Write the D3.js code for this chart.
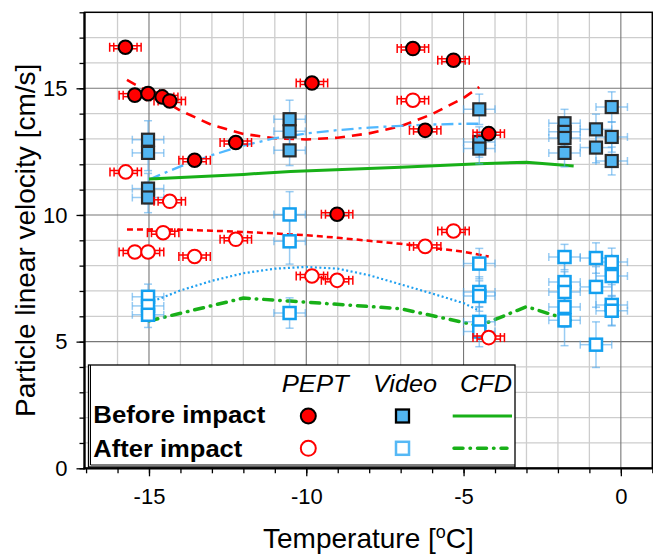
<!DOCTYPE html>
<html>
<head>
<meta charset="utf-8">
<script src="https://cdn.jsdelivr.net/npm/d3@7"></script>
<style>
  html, body { margin: 0; padding: 0; background: #fff; }
  svg { display: block; font-family: Arial, "Liberation Sans", sans-serif; }
</style>
</head>
<body>
<svg id="chart" width="653" height="554"></svg>
<script>
// ---- Data: particle linear velocity [cm/s] vs temperature [°C] ----
// PEPT measurements, before impact
const peptBeforeT = [-15.75, -15.45, -15.03, -14.58, -14.34, -13.55, -12.24, -9.82, -9.02, -6.61, -6.22, -5.32, -4.2];
const peptBeforeV = [16.62, 14.73, 14.79, 14.66, 14.5, 12.16, 12.86, 15.21, 10.03, 16.57, 13.34, 16.11, 13.21];
// PEPT measurements, after impact
const peptAfterT = [-15.74, -15.45, -15.03, -14.55, -14.34, -13.55, -12.24, -9.82, -9.02, -6.61, -6.22, -5.32, -4.2];
const peptAfterV = [11.7, 8.54, 8.54, 9.3, 10.54, 8.36, 9.04, 7.59, 7.42, 14.53, 8.76, 9.37, 5.16];

// Video measurements, before impact
const videoBeforeT = [-15.03, -15.03, -15.03, -15.03, -10.53, -10.53, -10.53, -4.5, -4.5, -4.5,
                      -1.79, -1.79, -1.79, -1.79, -0.79, -0.79, -0.29, -0.29, -0.29];
const videoBeforeV = [12.97, 12.45, 11.04, 10.69, 13.78, 13.3, 12.55, 14.17, 12.88, 12.62,
                      13.62, 13.28, 13.04, 12.45, 13.38, 12.66, 14.26, 13.08, 12.13];
const videoBeforeErr = [0.75, 0.7, 0.6, 0.6, 0.75, 0.7, 0.6, 0.6, 0.6, 0.6,
                        0.55, 0.55, 0.55, 0.55, 0.6, 0.6, 0.6, 0.6, 0.55];
// Video measurements, after impact
const videoAfterT = [-15.03, -15.03, -15.03, -10.53, -10.53, -10.53, -4.5, -4.5, -4.5, -4.5, -4.5,
                     -1.79, -1.79, -1.79, -1.79, -1.79, -0.79, -0.79, -0.79, -0.29, -0.29, -0.29, -0.29];
const videoAfterV = [6.77, 6.41, 6.06, 10.02, 8.96, 6.13, 8.08, 6.96, 6.8, 5.78, 5.4,
                     8.34, 7.35, 6.96, 6.37, 5.84, 8.3, 7.16, 4.88, 8.14, 7.59, 6.45, 6.22];
const videoAfterErr = [0.5, 0.5, 0.5, 0.9, 0.9, 0.6, 0.6, 0.6, 0.6, 0.6, 0.6,
                       0.5, 0.8, 0.8, 0.8, 1.0, 0.6, 0.8, 0.9, 0.55, 0.8, 0.8, 0.6];

// CFD simulation
const cfdT = [-15, -12, -10.5, -7, -4.5, -3, -1.5];
const cfdBeforeV = [11.42, 11.6, 11.72, 11.88, 12.02, 12.08, 11.93];
const cfdAfterV = [5.82, 6.72, 6.6, 6.3, 5.62, 6.38, 5.8];

// Trend curves through the measurements
const peptBeforeFitT = [-15.7, -15, -14, -13, -12, -11, -10, -9, -8, -7, -6, -5, -4.5];
const peptBeforeFitV = [15.33, 14.85, 14.12, 13.55, 13.2, 13.03, 12.98, 13.05, 13.22, 13.5, 13.98, 14.62, 15.05];
const peptAfterFitT = [-15.7, -14, -13, -12, -11, -10, -9, -8, -7, -6, -5, -4.2];
const peptAfterFitV = [9.43, 9.42, 9.38, 9.33, 9.27, 9.2, 9.1, 8.98, 8.86, 8.7, 8.55, 8.36];
const videoBeforeFitT = [-15, -14, -13, -12, -11, -10, -9, -8, -7, -6, -5, -4.5];
const videoBeforeFitV = [11.4, 11.92, 12.36, 12.74, 13.03, 13.22, 13.35, 13.45, 13.52, 13.57, 13.6, 13.6];
const videoAfterFitT = [-15, -14, -13, -12, -11, -10, -9, -8, -7, -6, -5, -4.5];
const videoAfterFitV = [6.53, 7.02, 7.4, 7.7, 7.88, 7.95, 7.88, 7.62, 7.26, 6.9, 6.52, 6.22];

// Axis ticks
const xMajorTicks = [-15, -10, -5, 0];
const yMajorTicks = [0, 5, 10, 15];

// ---- Layout ----
const svg = d3.select("#chart");
const x = d3.scaleLinear().domain([-17.05, 1]).range([84.5, 652.3]);
const y = d3.scaleLinear().domain([0, 18]).range([468.3, 12.3]);
const [pLeft, pRight] = x.range();
const [pBottom, pTop] = y.range();

const RED = "#ff0000";
const BLUE_FILL = "#52b6f2";
const BLUE_OPEN = "#13a0f0";
const BLUE_ERR = "rgba(85,170,235,0.6)";
const GREEN = "#18b018";

// ---- Grid ----
const xMinor = d3.range(-16, 1).filter(v => v % 5 !== 0);
const yMinor = d3.range(1, 18).filter(v => v % 5 !== 0);
const grid = svg.append("g");
grid.selectAll(".vminor").data(xMinor).join("line")
  .attr("x1", d => x(d)).attr("x2", d => x(d)).attr("y1", pTop).attr("y2", pBottom)
  .attr("stroke", "#cdcdcd").attr("stroke-width", 1.3);
grid.selectAll(".hminor").data(yMinor).join("line")
  .attr("y1", d => y(d)).attr("y2", d => y(d)).attr("x1", pLeft).attr("x2", pRight)
  .attr("stroke", "#cdcdcd").attr("stroke-width", 1.3);
grid.selectAll(".vmajor").data(xMajorTicks).join("line")
  .attr("x1", d => x(d)).attr("x2", d => x(d)).attr("y1", pTop).attr("y2", pBottom)
  .attr("stroke", "#777").attr("stroke-width", 1.1);
grid.selectAll(".hmajor").data(yMajorTicks.filter(v => v > 0)).join("line")
  .attr("y1", d => y(d)).attr("y2", d => y(d)).attr("x1", pLeft).attr("x2", pRight)
  .attr("stroke", "#777").attr("stroke-width", 1.1);

// ---- Curves ----
const line = d3.line().x(d => x(d[0])).y(d => y(d[1]));
const curves = svg.append("g").attr("fill", "none");
function drawCurve(ts, vs, color, width, dash, cap) {
  curves.append("path")
    .attr("d", line(ts.map((t, i) => [t, vs[i]])))
    .attr("stroke", color).attr("stroke-width", width)
    .attr("stroke-dasharray", dash || null)
    .attr("stroke-linecap", cap || "butt");
}
drawCurve(peptBeforeFitT, peptBeforeFitV, RED, 2.6, "10,7");
drawCurve(peptAfterFitT, peptAfterFitV, RED, 2.5, "6,4");
drawCurve(videoBeforeFitT, videoBeforeFitV, "#50b8ff", 2.3, "12,5,3,5");
drawCurve(videoAfterFitT, videoAfterFitV, "#1fa0f0", 2.2, "2,2.5");
drawCurve(cfdT, cfdBeforeV, GREEN, 3);
drawCurve(cfdT, cfdAfterV, GREEN, 3.5, "9,7,0.5,7", "round");

// ---- Video markers with x/y error bars ----
const xErrVideo = 0.5;
function drawVideo(ts, vs, errs, filled) {
  const g = svg.append("g");
  const pts = ts.map((t, i) => ({ t, v: vs[i], e: errs[i] }));
  const eb = g.append("g").attr("stroke", BLUE_ERR).attr("stroke-width", 1.5);
  pts.forEach(p => {
    const cx = x(p.t), cy = y(p.v);
    const x0 = x(p.t - xErrVideo), x1 = x(p.t + xErrVideo);
    const y0 = y(p.v - p.e), y1 = y(p.v + p.e);
    eb.append("line").attr("x1", x0).attr("x2", x1).attr("y1", cy).attr("y2", cy);
    eb.append("line").attr("x1", x0).attr("x2", x0).attr("y1", cy - 4).attr("y2", cy + 4);
    eb.append("line").attr("x1", x1).attr("x2", x1).attr("y1", cy - 4).attr("y2", cy + 4);
    eb.append("line").attr("x1", cx).attr("x2", cx).attr("y1", y0).attr("y2", y1);
    eb.append("line").attr("x1", cx - 4).attr("x2", cx + 4).attr("y1", y0).attr("y2", y0);
    eb.append("line").attr("x1", cx - 4).attr("x2", cx + 4).attr("y1", y1).attr("y2", y1);
  });
  g.selectAll("rect").data(pts).join("rect")
    .attr("x", d => x(d.t) - 6).attr("y", d => y(d.v) - 6)
    .attr("width", 12).attr("height", 12)
    .attr("fill", filled ? BLUE_FILL : "#fff")
    .attr("stroke", filled ? "#2a2a2a" : BLUE_OPEN)
    .attr("stroke-width", filled ? 2.2 : 2.5);
}
drawVideo(videoAfterT, videoAfterV, videoAfterErr, false);
drawVideo(videoBeforeT, videoBeforeV, videoBeforeErr, true);

// ---- PEPT markers with horizontal error bars ----
const xErrOuter = 0.5, xErrInner = 0.37;
function drawPept(ts, vs, filled) {
  const g = svg.append("g");
  const pts = ts.map((t, i) => ({ t, v: vs[i] }));
  const eb = g.append("g").attr("stroke", RED).attr("stroke-width", 1.5);
  pts.forEach(p => {
    const cy = y(p.v);
    [[xErrOuter, -1.5], [xErrInner, 1.5]].forEach(([e, dy]) => {
      const x0 = x(p.t - e), x1 = x(p.t + e);
      eb.append("line").attr("x1", x0).attr("x2", x1).attr("y1", cy + dy).attr("y2", cy + dy);
      eb.append("line").attr("x1", x0).attr("x2", x0).attr("y1", cy - 4.5).attr("y2", cy + 4.5);
      eb.append("line").attr("x1", x1).attr("x2", x1).attr("y1", cy - 4.5).attr("y2", cy + 4.5);
    });
  });
  g.selectAll("circle").data(pts).join("circle")
    .attr("cx", d => x(d.t)).attr("cy", d => y(d.v)).attr("r", 6.8)
    .attr("fill", filled ? RED : "#fff")
    .attr("stroke", filled ? "#000" : RED)
    .attr("stroke-width", 2);
}
drawPept(peptAfterT, peptAfterV, false);
drawPept(peptBeforeT, peptBeforeV, true);

// ---- Axes ----
const axisFont = "22px";
const gx = svg.append("g").attr("transform", `translate(0,${pBottom})`);
gx.call(d3.axisBottom(x).tickValues(d3.range(-17, 2)).tickSize(5).tickFormat(""));
gx.call(g => g.append("g").call(d3.axisBottom(x).tickValues(xMajorTicks).tickSize(8).tickPadding(12)
  .tickFormat(d => d === 0 ? "0" : String(d).replace("\u2212", "-"))));
gx.selectAll(".domain").remove();
gx.selectAll("line").attr("stroke", "#000").attr("stroke-width", 1.3);
gx.selectAll("text").attr("fill", "#000").style("font-size", axisFont).style("font-family", "Arial, 'Liberation Sans', sans-serif");

const gy = svg.append("g").attr("transform", `translate(${pLeft},0)`);
gy.call(d3.axisLeft(y).tickValues(d3.range(0, 19)).tickSize(5).tickFormat(""));
gy.call(g => g.append("g").call(d3.axisLeft(y).tickValues(yMajorTicks).tickSize(8).tickPadding(9)));
gy.selectAll(".domain").remove();
gy.selectAll("line").attr("stroke", "#000").attr("stroke-width", 1.3);
gy.selectAll("text").attr("fill", "#000").style("font-size", axisFont).style("font-family", "Arial, 'Liberation Sans', sans-serif");

// Plot frame
svg.append("rect").attr("x", pLeft).attr("y", pTop).attr("width", pRight - pLeft).attr("height", pBottom - pTop)
  .attr("fill", "none").attr("stroke", "#000").attr("stroke-width", 1.5);
svg.append("line").attr("x1", pLeft).attr("x2", pLeft).attr("y1", pTop).attr("y2", pBottom + 1)
  .attr("stroke", "#000").attr("stroke-width", 2.2);
svg.append("line").attr("x1", pLeft - 1).attr("x2", pRight).attr("y1", pBottom).attr("y2", pBottom)
  .attr("stroke", "#000").attr("stroke-width", 2.2);

// Axis titles
svg.append("text")
  .attr("transform", `translate(35,${(pTop + pBottom) / 2}) rotate(-90)`)
  .attr("text-anchor", "middle").style("font-size", "28px").attr("fill", "#000")
  .text("Particle linear velocity [cm/s]");
const xt = svg.append("text")
  .attr("x", (pLeft + pRight) / 2).attr("y", 548).attr("text-anchor", "middle")
  .style("font-size", "28px").attr("fill", "#000");
xt.append("tspan").text("Temperature [");
xt.append("tspan").attr("dy", -10).style("font-size", "18px").text("o");
xt.append("tspan").attr("dy", 10).text("C]");

// ---- Legend ----
const lg = svg.append("g");
lg.append("rect").attr("x", 88.5).attr("y", 365).attr("width", 426.5).attr("height", 102)
  .attr("fill", "#fff").attr("stroke", "#000").attr("stroke-width", 1.3);
lg.append("path").attr("d", "M90.5,365 V465 H515").attr("fill", "none").attr("stroke", "#000").attr("stroke-width", 1);

const hdr = [["PEPT", 281.7, 67], ["Video", 373, 64], ["CFD", 460, 52]];
hdr.forEach(([t, hx, w]) => {
  lg.append("text").attr("x", hx).attr("y", 391.7).style("font-size", "24px").style("font-style", "italic")
    .attr("textLength", w).attr("lengthAdjust", "spacingAndGlyphs").attr("fill", "#000").text(t);
});
lg.append("text").attr("x", 93.3).attr("y", 423.3).style("font-size", "24px").style("font-weight", "bold")
  .attr("textLength", 172).attr("lengthAdjust", "spacingAndGlyphs").attr("fill", "#000").text("Before impact");
lg.append("text").attr("x", 93.3).attr("y", 456.7).style("font-size", "24px").style("font-weight", "bold")
  .attr("textLength", 149).attr("lengthAdjust", "spacingAndGlyphs").attr("fill", "#000").text("After impact");

lg.append("circle").attr("cx", 308.3).attr("cy", 416).attr("r", 7.5).attr("fill", RED).attr("stroke", "#000").attr("stroke-width", 2);
lg.append("circle").attr("cx", 308.3).attr("cy", 448.3).attr("r", 7.5).attr("fill", "#fff").attr("stroke", RED).attr("stroke-width", 2);
lg.append("rect").attr("x", 396).attr("y", 409.5).attr("width", 13).attr("height", 13).attr("fill", BLUE_FILL).attr("stroke", "#000").attr("stroke-width", 2.3);
lg.append("rect").attr("x", 396).attr("y", 441.8).attr("width", 13).attr("height", 13).attr("fill", "#fff").attr("stroke", "#55b8f5").attr("stroke-width", 2.5);
lg.append("line").attr("x1", 452.7).attr("x2", 512).attr("y1", 416).attr("y2", 416).attr("stroke", GREEN).attr("stroke-width", 3);
lg.append("line").attr("x1", 454).attr("x2", 507).attr("y1", 448.3).attr("y2", 448.3).attr("stroke", GREEN)
  .attr("stroke-width", 3.5).attr("stroke-dasharray", "9,7,0.5,7").attr("stroke-linecap", "round");
</script>
</body>
</html>
